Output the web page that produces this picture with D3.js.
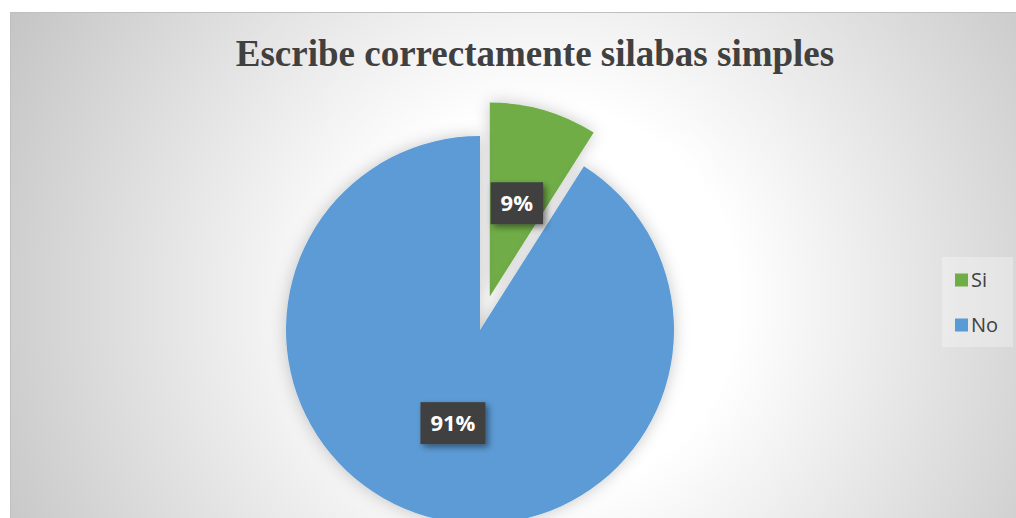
<!DOCTYPE html>
<html>
<head>
<meta charset="utf-8">
<script src="https://cdn.jsdelivr.net/npm/d3@7"></script>
<style>
  html, body { margin: 0; padding: 0; background: #fff; }
  #chart { width: 1016px; height: 518px; overflow: hidden; }
</style>
</head>
<body>
<div id="chart"></div>
<script>
(function(d3) {
  'use strict';

  // data
  var categories = ['Si', 'No'];
  var values = [9, 91];
  var colors = ['#70AD47', '#5B9BD5'];
  var title = 'Escribe correctamente silabas simples';

  var width = 1016;
  var height = 518;
  var cx = 480, cy = 330;
  var radius = 194;
  var explode = 35;

  var svg = d3.select('#chart')
    .append('svg')
    .attr('width', width)
    .attr('height', height);

  var defs = svg.append('defs');

  var grad = defs.append('radialGradient')
    .attr('id', 'bg')
    .attr('gradientUnits', 'userSpaceOnUse')
    .attr('cx', 545).attr('cy', 300).attr('r', 640);
  grad.append('stop').attr('offset', 0).attr('stop-color', '#ffffff');
  grad.append('stop').attr('offset', 0.3).attr('stop-color', '#ffffff');
  grad.append('stop').attr('offset', 1).attr('stop-color', '#c0c0c0');

  var pieShadow = defs.append('filter').attr('id', 'pieShadow')
    .attr('x', '-20%').attr('y', '-20%').attr('width', '140%').attr('height', '140%');
  pieShadow.append('feDropShadow')
    .attr('dx', 0).attr('dy', 0).attr('stdDeviation', 8)
    .attr('flood-color', '#000').attr('flood-opacity', 0.22);

  var boxShadow = defs.append('filter').attr('id', 'boxShadow')
    .attr('x', '-30%').attr('y', '-30%').attr('width', '170%').attr('height', '170%');
  boxShadow.append('feDropShadow')
    .attr('dx', 3).attr('dy', 3).attr('stdDeviation', 3)
    .attr('flood-color', '#000').attr('flood-opacity', 0.45);

  // chart area background + border
  svg.append('rect')
    .attr('x', 10.5).attr('y', 12.5)
    .attr('width', width + 20).attr('height', height + 20)
    .attr('fill', 'url(#bg)')
    .attr('stroke', '#bfbfbf')
    .attr('stroke-width', 1);

  svg.append('text')
    .attr('x', 535)
    .attr('y', 66)
    .attr('text-anchor', 'middle')
    .style('font-family', '"Liberation Serif", "Times New Roman", serif')
    .style('font-weight', 'bold')
    .style('font-size', '37px')
    .style('fill', '#404040')
    .text(title);

  var dataset = categories.map(function(c, i) {
    return { label: c, count: values[i], color: colors[i] };
  });
  var total = d3.sum(values);

  var pie = d3.pie()
    .value(function(d) { return d.count; })
    .sort(null);

  var arc = d3.arc()
    .innerRadius(0)
    .outerRadius(radius);

  var labelArc = d3.arc()
    .innerRadius(radius * 0.5)
    .outerRadius(radius * 0.5);

  var arcs = pie(dataset);

  function offset(d) {
    if (d.index !== 0) return [0, 0];
    var a = (d.startAngle + d.endAngle) / 2;
    return [explode * Math.sin(a), -explode * Math.cos(a)];
  }

  var g = svg.append('g')
    .attr('transform', 'translate(' + cx + ',' + cy + ')');

  g.selectAll('path')
    .data(arcs)
    .enter()
    .append('path')
    .attr('d', arc)
    .attr('fill', function(d) { return d.data.color; })
    .attr('filter', 'url(#pieShadow)')
    .attr('transform', function(d) {
      return 'translate(' + offset(d) + ')';
    });

  var labels = g.selectAll('.lbl')
    .data(arcs)
    .enter()
    .append('g')
    .attr('class', 'lbl')
    .attr('transform', function(d) {
      var c = labelArc.centroid(d), o = offset(d);
      return 'translate(' + (c[0] + o[0]) + ',' + (c[1] + o[1]) + ')';
    });

  labels.append('text')
    .attr('text-anchor', 'middle')
    .attr('dy', '0.36em')
    .style('font-family', '"Open Sans", sans-serif')
    .style('font-weight', 'bold')
    .style('font-size', '22px')
    .style('fill', '#ffffff')
    .text(function(d) { return Math.round(100 * d.data.count / total) + '%'; });

  labels.each(function() {
    var lg = d3.select(this);
    var w = lg.select('text').node().getComputedTextLength() + 20;
    lg.insert('rect', 'text')
      .attr('x', -w / 2).attr('y', -21)
      .attr('width', w).attr('height', 42)
      .attr('fill', '#404040')
      .attr('filter', 'url(#boxShadow)');
  });

  // legend
  var legendRectSize = 13;
  var legend = svg.append('g')
    .attr('transform', 'translate(942,257)');

  legend.append('rect')
    .attr('width', 71).attr('height', 90)
    .attr('fill', '#ffffff')
    .attr('fill-opacity', 0.3);

  var item = legend.selectAll('.legend')
    .data(dataset)
    .enter()
    .append('g')
    .attr('class', 'legend')
    .attr('transform', function(d, i) {
      return 'translate(13,' + (23 + i * 45) + ')';
    });

  item.append('rect')
    .attr('y', -legendRectSize / 2)
    .attr('width', legendRectSize)
    .attr('height', legendRectSize)
    .style('fill', function(d) { return d.color; });

  item.append('text')
    .attr('x', legendRectSize + 3)
    .attr('dy', '0.36em')
    .style('font-family', '"Open Sans", sans-serif')
    .style('font-size', '20px')
    .style('fill', '#404040')
    .text(function(d) { return d.label; });

})(window.d3);
</script>
</body>
</html>
